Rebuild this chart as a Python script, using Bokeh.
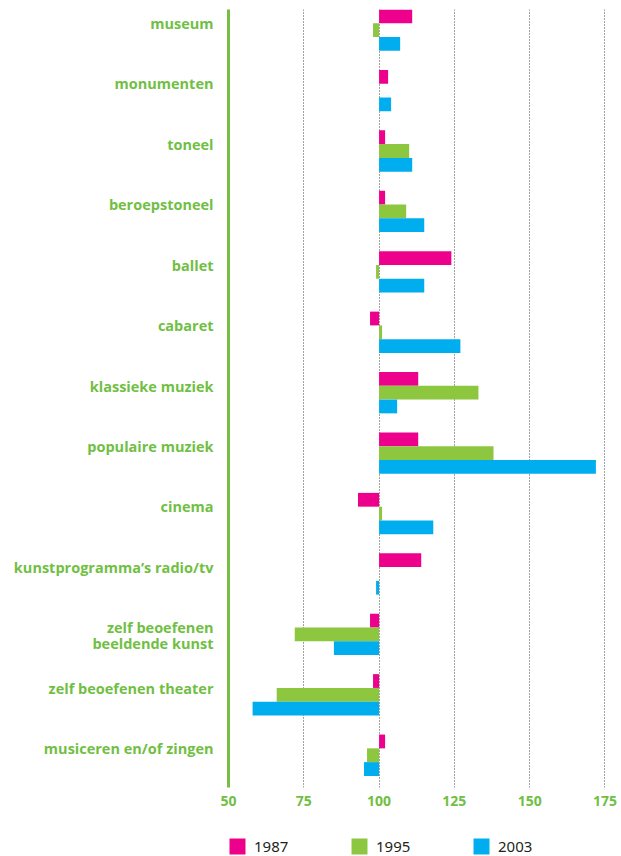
from bokeh.plotting import figure
from bokeh.layouts import column
from bokeh.models import Range1d, FixedTicker, Legend, LegendItem, ColumnDataSource
from bokeh.embed import file_html
from bokeh.resources import INLINE

categories = [
    "museum", "monumenten", "toneel", "beroepstoneel", "ballet", "cabaret",
    "klassieke muziek", "populaire muziek", "cinema",
    "kunstprogramma\u2019s radio/tv", "zelf beoefenen\nbeeldende kunst",
    "zelf beoefenen theater", "musiceren en/of zingen",
]
years = ["1987", "1995", "2003"]
v1987 = [111, 103, 102, 102, 124, 97, 113, 113, 93, 114, 97, 98, 102]
v1995 = [98, 100, 110, 109, 99, 101, 133, 138, 101, 100, 72, 66, 96]
v2003 = [107, 104, 111, 115, 115, 127, 106, 172, 118, 99, 85, 58, 95]
x_ticks = [50, 75, 100, 125, 150, 175]
baseline = 100

series = [v1987, v1995, v2003]
colors = ["#EC008C", "#8DC63F", "#00AEEF"]
label_green = "#70BF44"
axis_green = "#78BE43"

# vertical layout in "band" units (one band per category, 0 at top)
bar_h = 0.228
label_off = 0.232
line_step = 0.265
n = len(categories)

p = figure(width=621, height=816,
           x_range=Range1d(50, 180.5), y_range=Range1d(12.876, 0),
           output_backend="svg", toolbar_location=None,
           min_border_left=228, min_border_right=0,
           min_border_top=9, min_border_bottom=29)
p.outline_line_color = None
p.background_fill_color = "white"

sources = []
for j, (vals, col) in enumerate(zip(series, colors)):
    src = ColumnDataSource(dict(
        y=[i + bar_h / 2 + j * bar_h for i in range(n)],
        left=[baseline] * n,
        right=vals,
    ))
    sources.append(src)
    p.hbar(y="y", left="left", right="right", height=bar_h, source=src,
           fill_color=col, line_color=None)

# y axis: category labels (one tick per text line)
tick_pos = []
overrides = {}
for i, c in enumerate(categories):
    for k, line in enumerate(c.split("\n")):
        t = i + label_off + k * line_step
        tick_pos.append(t)
        overrides[t] = line
p.yaxis.ticker = FixedTicker(ticks=tick_pos)
p.yaxis.major_label_overrides = overrides
p.yaxis.axis_line_color = axis_green
p.yaxis.axis_line_width = 3
p.yaxis.major_tick_line_color = None
p.yaxis.minor_tick_line_color = None
p.yaxis.major_tick_out = 0
p.yaxis.major_tick_in = 0
p.yaxis.major_label_standoff = 15
p.yaxis.major_label_text_font = "Open Sans"
p.yaxis.major_label_text_font_style = "bold"
p.yaxis.major_label_text_font_size = "14.5px"
p.yaxis.major_label_text_color = label_green
p.ygrid.grid_line_color = None

# x axis
p.xaxis.ticker = FixedTicker(ticks=x_ticks)
p.xaxis.axis_line_color = None
p.xaxis.major_tick_line_color = None
p.xaxis.minor_tick_line_color = None
p.xaxis.major_tick_out = 0
p.xaxis.major_tick_in = 0
p.xaxis.major_label_standoff = 8
p.xaxis.major_label_text_font = "Open Sans"
p.xaxis.major_label_text_font_style = "bold"
p.xaxis.major_label_text_font_size = "14px"
p.xaxis.major_label_text_color = label_green
p.xgrid.grid_line_color = "#444444"
p.xgrid.grid_line_dash = "1 2"
p.xgrid.grid_line_width = 1

# legend strip below the chart (its swatch renderers share the series data,
# but lie outside this strip's visible range)
p2 = figure(width=621, height=40, x_axis_type=None, y_axis_type=None,
            x_range=Range1d(0, 1), y_range=Range1d(1000, 1001),
            output_backend="svg", toolbar_location=None,
            min_border_left=228, min_border_right=0,
            min_border_top=0, min_border_bottom=0)
p2.outline_line_color = None
swatches = [p2.hbar(y="y", left="left", right="right", height=bar_h, source=src,
                    fill_color=c, line_color=None)
            for src, c in zip(sources, colors)]
legend = Legend(
    items=[LegendItem(label=y, renderers=[r]) for y, r in zip(years, swatches)],
    location=(-1, 0), orientation="horizontal",
    glyph_width=20, glyph_height=20, label_standoff=7, label_width=95,
    spacing=0, padding=0, margin=0,
    border_line_color=None, background_fill_alpha=0,
    label_text_font="Noto Sans", label_text_font_size="15px",
    label_text_color="#231F20",
)
p2.add_layout(legend)

layout = column(p, p2, spacing=0)
open("out.html", "w").write(file_html(layout, INLINE))
